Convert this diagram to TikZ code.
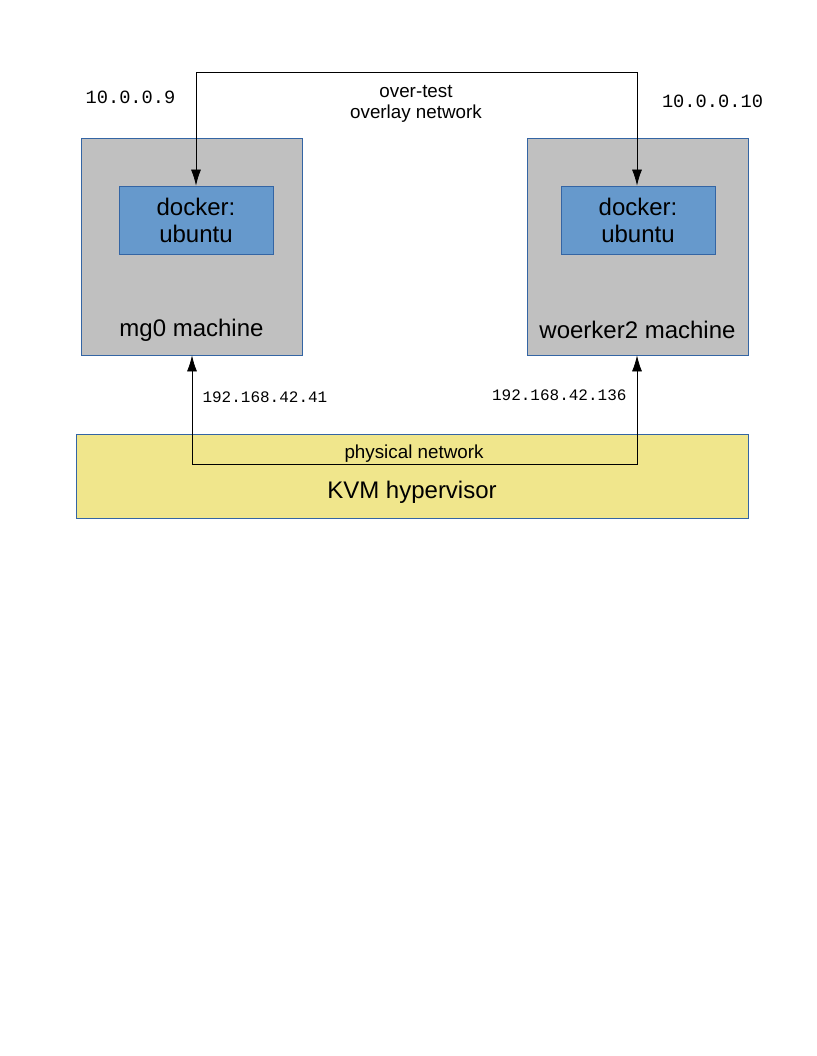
\documentclass[tikz,border=0pt]{standalone}
\usepackage{fontspec}
\setmainfont{Liberation Sans}
\setmonofont{Liberation Mono}
\usepackage{tikz}
\usetikzlibrary{calc}
\usetikzlibrary{arrows.meta}
\usetikzlibrary{positioning}
\definecolor{vmgrey}{HTML}{C0C0C0}
\definecolor{dockblue}{HTML}{6699CC}
\definecolor{kvmyellow}{HTML}{F0E68C}
\definecolor{edgeblue}{HTML}{3465A4}
\tikzset{net/.style = {{Latex[length=16pt,width=10pt]}-{Latex[length=16pt,width=10pt]}, line width=0.8pt}}
\tikzset{machine/.style = {rectangle, draw=edgeblue, fill=vmgrey, line width=0.8pt, minimum width=221pt, minimum height=217pt, inner sep=0}}
\tikzset{container/.style = {rectangle, draw=edgeblue, fill=dockblue, line width=0.8pt, minimum width=154pt, minimum height=68pt, align=center, font=\fontsize{24}{27}\selectfont}}
\tikzset{iplabel/.style = {draw=none, font=\ttfamily\fontsize{18.7}{20}\selectfont}}

\begin{document}
\begin{tikzpicture}[x=1pt, y=-1pt]
\useasboundingbox (0, 0) rectangle (816, 1056);
% virtual machines and containers
\node [machine] (M) at (191.5, 246.5) {};
\node [machine] (W) at (637.5, 246.5) {};
\node [container] (DM) at (196, 220) {docker:\\ubuntu};
\node [container] (DW) at (638, 220) {docker:\\ubuntu};
\node [draw=none, font=\fontsize{24}{27}\selectfont] (ML) at (191.5, 330) {mg0 machine};
\node [draw=none, font=\fontsize{24}{27}\selectfont] (WL) at (637.5, 330) {woerker2 machine};
% hypervisor
\node [rectangle, draw=edgeblue, fill=kvmyellow, line width=0.8pt, minimum width=672pt, minimum height=84pt, inner sep=0] (K) at (412, 476) {};
\node [draw=none, font=\fontsize{24}{27}\selectfont] (KL) at (412, 492) {KVM hypervisor};
% overlay network
\coordinate (OA) at (196, 72);
\coordinate (OB) at (637, 72);
\draw [net] (DM.north -| OA) -- (OA) -- (OB) -- (DW.north -| OB);
\node [draw=none, align=center, font=\fontsize{18.8}{20.5}\selectfont] (ON) at (416, 104) {over-test\\overlay network};
\node [iplabel] (IM) at (130.5, 97) {10.0.0.9};
\node [iplabel] (IW) at (712.5, 101) {10.0.0.10};
% physical network
\coordinate (PA) at (192, 464);
\coordinate (PB) at (637, 464);
\draw [net] (M.south -| PA) -- (PA) -- (PB) -- (W.south -| PB);
\node [draw=none, font=\fontsize{18.8}{20}\selectfont] (PN) at (414, 454) {physical network};
\node [iplabel, font=\ttfamily\fontsize{16}{18}\selectfont, anchor=west] (PM) at (199, 397) {192.168.42.41};
\node [iplabel, font=\ttfamily\fontsize{16}{18}\selectfont, anchor=east] (PW) at (630, 395) {192.168.42.136};
\end{tikzpicture}
\end{document}
